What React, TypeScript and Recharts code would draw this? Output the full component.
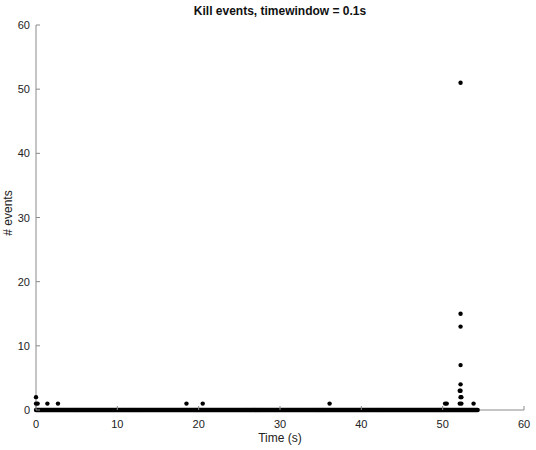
import { ScatterChart, Scatter, XAxis, YAxis } from 'recharts';

// counts per 0.1s window; windows cover 0 .. 54.3 s
const windowSize = 0.1;
const windowCount = 544;

// non-zero counts: [time (s), # events]
const eventTimes = [0, 0, 0.2, 1.4, 2.7, 18.5, 20.5, 36.1, 50.3, 50.5, 52.1, 52.3, 53.8, 52.2, 52.3, 52.1, 52.2, 52.2, 52.2, 52.2, 52.2, 52.2];
const eventCounts = [2, 1, 1, 1, 1, 1, 1, 1, 1, 1, 1, 1, 1, 2, 2, 3, 3, 4, 7, 13, 15, 51];

const xTicks = [0, 10, 20, 30, 40, 50, 60];
const yTicks = [0, 10, 20, 30, 40, 50, 60];

const zeroData = Array.from({ length: windowCount }, (_, i) => ({ t: +(i * windowSize).toFixed(1), n: 0 }));
const eventData = eventTimes.map((t, i) => ({ t, n: eventCounts[i] }));

const FONT = 'Liberation Sans, Arial, sans-serif';
const AXIS = '#8a8a8a';

function XTick({ x, y, payload }: any) {
  return (
    <g>
      <line x1={x} x2={x} y1={y - 4} y2={y - 8} stroke={AXIS} />
      <text x={x} y={y} dy={14} textAnchor="middle" fontSize={11} fill="#222" fontFamily={FONT}>
        {payload.value}
      </text>
    </g>
  );
}

function YTick({ x, y, payload }: any) {
  return (
    <g>
      <line x1={x + 6} x2={x + 10} y1={y} y2={y} stroke={AXIS} />
      <text x={x} y={y} dy={4} textAnchor="end" fontSize={11} fill="#222" fontFamily={FONT}>
        {payload.value}
      </text>
    </g>
  );
}

const Dot = (p: any) => <circle cx={p.cx} cy={p.cy} r={2.2} fill="#000" />;

export default function App() {
  return (
    <div style={{ position: 'absolute', left: 0, top: 0, width: 536, height: 450, background: '#fff' }}>
      <div
        style={{
          position: 'absolute', left: 36, width: 488, top: 4, textAlign: 'center',
          fontFamily: FONT, fontWeight: 'bold', fontSize: 12, color: '#111',
        }}
      >
        Kill events, timewindow = 0.1s
      </div>
      <div
        style={{
          position: 'absolute', left: 36, width: 488, top: 431, textAlign: 'center',
          fontFamily: FONT, fontSize: 12, color: '#222',
        }}
      >
        Time (s)
      </div>
      <div
        style={{
          position: 'absolute', left: 8, top: 213, transform: 'translate(-50%, -50%) rotate(-90deg)',
          fontFamily: FONT, fontSize: 12, color: '#222', whiteSpace: 'nowrap',
        }}
      >
        # events
      </div>
      <ScatterChart width={536} height={450} margin={{ top: 25, right: 12, bottom: 0, left: 0 }}>
        <XAxis
          type="number"
          dataKey="t"
          domain={[0, 60]}
          ticks={xTicks}
          height={40}
          stroke={AXIS}
          tickLine={false}
          tickSize={0}
          tickMargin={4}
          tick={<XTick />}
          interval={0}
        />
        <YAxis
          type="number"
          dataKey="n"
          domain={[0, 60]}
          ticks={yTicks}
          width={36}
          stroke={AXIS}
          tickLine={false}
          tickSize={0}
          tickMargin={6}
          tick={<YTick />}
          interval={0}
        />
        <Scatter data={zeroData} fill="#000" shape={Dot} isAnimationActive={false} />
        <Scatter data={eventData} fill="#000" shape={Dot} isAnimationActive={false} />
      </ScatterChart>
    </div>
  );
}
